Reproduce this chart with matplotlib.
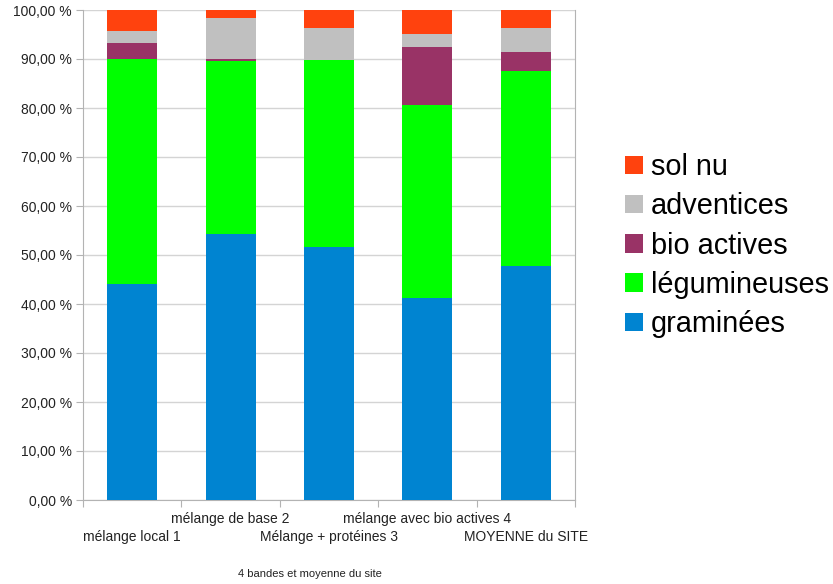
import matplotlib
matplotlib.use('Agg')
import matplotlib.pyplot as plt
import numpy as np

plt.rcParams['font.family'] = ['Liberation Sans', 'DejaVu Sans']

categories = ['mélange local 1', 'mélange de base 2', 'Mélange + protéines 3',
              'mélange avec bio actives 4', 'MOYENNE du SITE']
graminees = [44.1, 54.3, 51.6, 41.2, 47.8]
legumineuses = [45.9, 35.3, 38.2, 39.4, 39.8]
bio_actives = [3.3, 0.4, 0.0, 11.8, 3.8]
adventices = [2.4, 8.4, 6.5, 2.7, 4.9]
sol_nu = [4.3, 1.6, 3.7, 4.9, 3.7]

series = [
    ('graminées', graminees, '#0084d1'),
    ('légumineuses', legumineuses, '#00ff00'),
    ('bio actives', bio_actives, '#993366'),
    ('adventices', adventices, '#c0c0c0'),
    ('sol nu', sol_nu, '#ff420e'),
]

fig = plt.figure(figsize=(8.33, 5.84), dpi=100)
ax = fig.add_axes([83 / 833, 84 / 584, 492 / 833, 490 / 584])

x = np.arange(len(categories))
bottom = np.zeros(len(categories))
handles = []
for name, vals, col in series:
    b = ax.bar(x, vals, width=0.51, bottom=bottom, color=col, label=name, zorder=3)
    bottom += np.array(vals)
    handles.append(b)

ax.set_xlim(-0.5, len(categories) - 0.5)
ax.set_ylim(0, 100)
ax.set_yticks(np.arange(0, 101, 10))
ax.set_yticklabels(['%d,00 %%' % v for v in range(0, 101, 10)], fontsize=10, color='#222222')
ax.yaxis.grid(True, color='#d4d4d4', linewidth=1, zorder=0)
ax.tick_params(axis='y', length=5, color='#b3b3b3', pad=3)

# category boundaries as ticks, labels staggered on two rows
ax.set_xticks(np.arange(-0.5, len(categories)), minor=False)
ax.set_xticklabels([])
ax.tick_params(axis='x', length=5, color='#b3b3b3')
for i, lab in enumerate(categories):
    yoff = -14 if i % 2 == 1 else -26.5
    ax.annotate(lab, xy=(i, 0), xycoords=('data', 'axes fraction'),
                xytext=(0, yoff), textcoords='offset points',
                ha='center', va='center', fontsize=10, color='#222222')

for side in ['left', 'bottom', 'right']:
    ax.spines[side].set_color('#b3b3b3')
ax.spines['top'].set_visible(False)

fig.text(0.372, 0.008, '4 bandes et moyenne du site', ha='center', va='bottom',
         fontsize=8, color='#222222')

leg = fig.legend(handles[::-1], [s[0] for s in series][::-1],
                 loc='center left', bbox_to_anchor=(625 / 833, 0.5796),
                 fontsize=20.75, frameon=False, handlelength=0.62, handleheight=0.62,
                 handletextpad=0.28, labelspacing=0.39, borderpad=0, borderaxespad=0)

plt.savefig('out.png', dpi=100)
plt.close()
